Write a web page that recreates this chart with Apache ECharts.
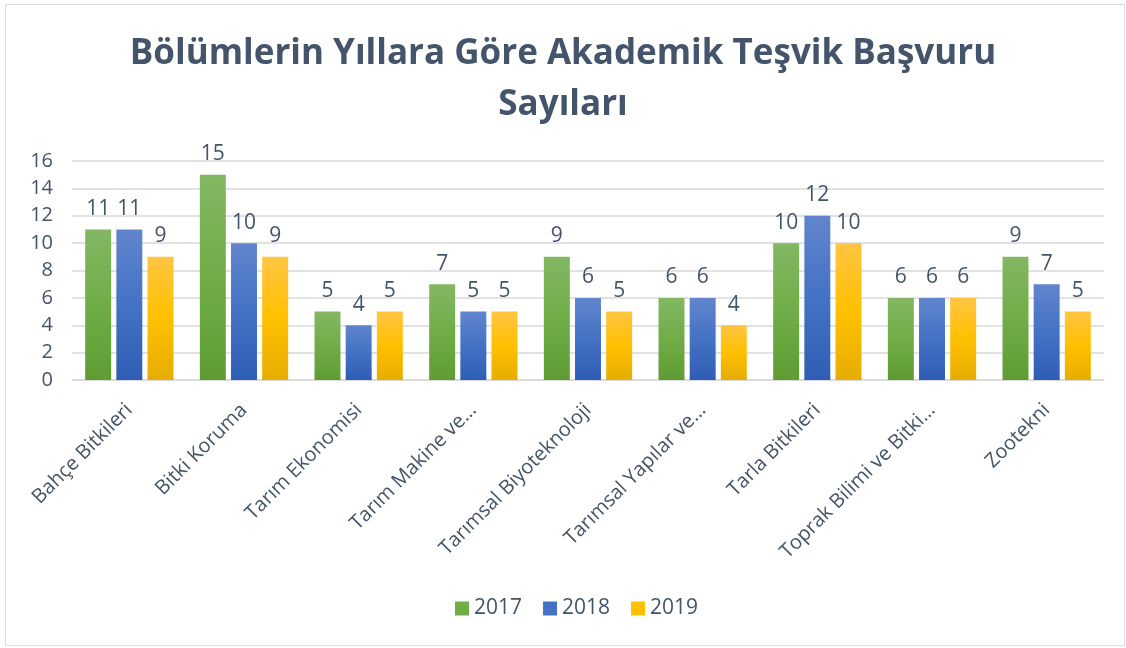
<!DOCTYPE html>
<html>
<head>
<meta charset="utf-8">
<script src="https://cdn.jsdelivr.net/npm/echarts@6/dist/echarts.min.js"></script>
<style>
    html, body { margin: 0; padding: 0; background: #fff; }
    #frame {
        position: absolute; left: 5px; top: 4px; width: 1120px; height: 642px;
        border: 1px solid #D9DEE6; box-sizing: border-box;
    }
    #chart { position: absolute; left: 0; top: 0; width: 1126px; height: 648px; }
</style>
</head>
<body>
<div id="frame"></div>
<div id="chart"></div>
<script>
    // bölümler
    var categories = ['Bahçe Bitkileri', 'Bitki Koruma', 'Tarım Ekonomisi', 'Tarım Makine ve…',
        'Tarımsal Biyoteknoloji', 'Tarımsal Yapılar ve…', 'Tarla Bitkileri', 'Toprak Bilimi ve Bitki…', 'Zootekni'];
    var years = ['2017', '2018', '2019'];
    var data2017 = [11, 15, 5, 7, 9, 6, 10, 6, 9];
    var data2018 = [11, 10, 4, 5, 6, 6, 12, 6, 7];
    var data2019 = [9, 9, 5, 5, 5, 4, 10, 6, 5];
    var yTicks = [0, 2, 4, 6, 8, 10, 12, 14, 16];

    var textColor = '#44546A';
    var font = '"Open Sans", "DejaVu Sans", sans-serif';

    function grad(top, mid, bottom) {
        return new echarts.graphic.LinearGradient(0, 0, 0, 1, [
            {offset: 0, color: top},
            {offset: 0.5, color: mid},
            {offset: 1, color: bottom}
        ]);
    }

    var colors = [
        grad('#83B763', '#70AD47', '#5E9C33'),
        grad('#6185CD', '#4472C4', '#2E5DB5'),
        grad('#FFC542', '#FFC000', '#E6AD00')
    ];
    var legendColors = ['#70AD47', '#4472C4', '#FFC000'];

    function makeSeries(i, arr) {
        return {
            name: years[i],
            type: 'bar',
            barGap: '20%',
            barCategoryGap: '23%',
            itemStyle: {color: colors[i]},
            label: {
                show: true,
                position: 'top',
                distance: 10,
                color: textColor,
                fontSize: 21,
                fontFamily: font
            },
            data: arr
        };
    }

    var chart = echarts.init(document.getElementById('chart'));
    chart.setOption({
        color: legendColors,
        animation: false,
        title: {
            text: 'Bölümlerin Yıllara Göre Akademik Teşvik Başvuru\nSayıları',
            left: 'center',
            top: 24,
            textStyle: {
                color: textColor,
                fontSize: 35,
                fontWeight: 'bold',
                fontFamily: font,
                lineHeight: 51
            }
        },
        legend: {
            data: years.map(function (y, i) {
                return {name: y, itemStyle: {color: legendColors[i]}};
            }),
            bottom: 24,
            left: 450,
            icon: 'rect',
            itemWidth: 14,
            itemHeight: 14,
            itemGap: 21,
            textStyle: {color: textColor, fontSize: 21, fontFamily: font}
        },
        grid: {left: 72, right: 22, top: 161, bottom: 268, containLabel: false},
        xAxis: {
            type: 'category',
            data: categories,
            axisTick: {show: false},
            axisLine: {lineStyle: {color: '#D9D9D9', width: 1.5}},
            axisLabel: {
                rotate: 45,
                interval: 0,
                margin: 27,
                color: textColor,
                fontSize: 20,
                fontFamily: font
            }
        },
        yAxis: {
            type: 'value',
            min: yTicks[0],
            max: yTicks[yTicks.length - 1],
            interval: 2,
            axisLine: {show: false},
            axisTick: {show: false},
            splitLine: {lineStyle: {color: '#D9D9D9', width: 1.5}},
            axisLabel: {color: textColor, fontSize: 20, fontFamily: font, margin: 19}
        },
        series: [
            makeSeries(0, data2017),
            makeSeries(1, data2018),
            makeSeries(2, data2019)
        ]
    });
</script>
</body>
</html>
